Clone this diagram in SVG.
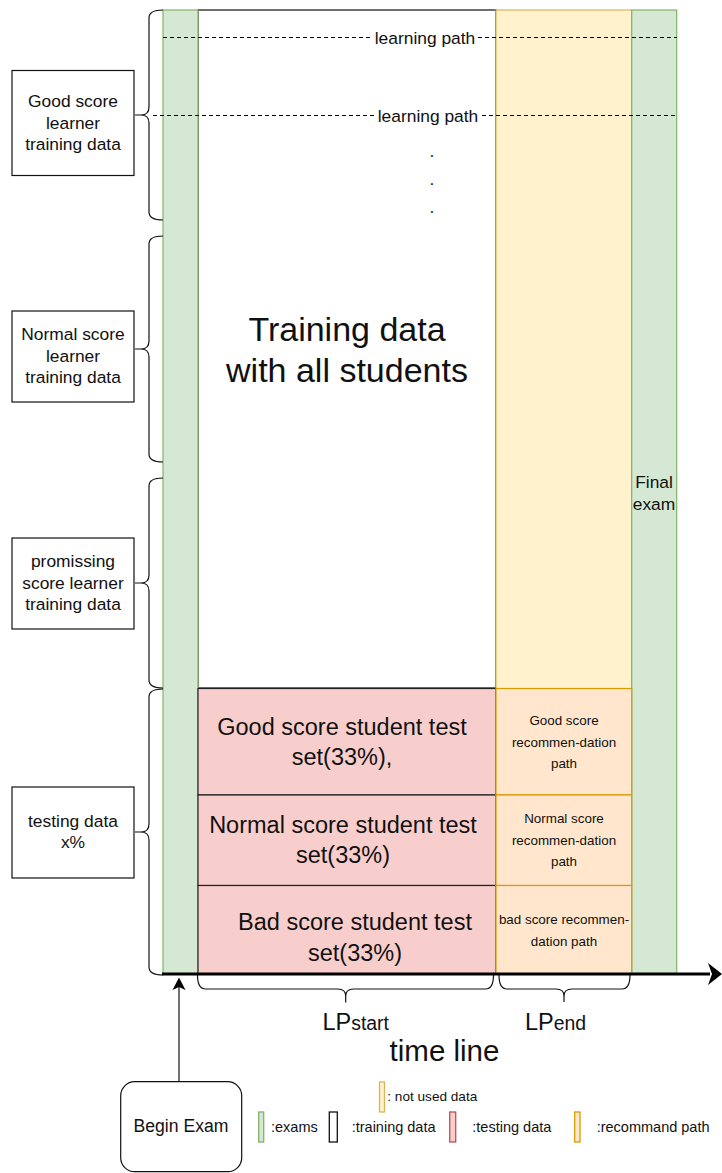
<svg xmlns="http://www.w3.org/2000/svg" width="722" height="1173" viewBox="0 0 722 1173">
<style>
text{font-family:"Liberation Sans",Arial,sans-serif;fill:#111}
.c{text-anchor:middle}
.green{fill:#d5e8d4;stroke:#82b366;stroke-width:1.2}
.yellow{fill:#fff2cc;stroke:#d6b656;stroke-width:1.2}
.orange{fill:#ffe6cc;stroke:#d79b00;stroke-width:1.2}
.red{fill:#f8cecc;stroke:#222;stroke-width:1.2}
.box{fill:#fff;stroke:#111;stroke-width:1.2}
.brace{fill:none;stroke:#111;stroke-width:1.2}
.dash{stroke:#000;stroke-width:1.2;stroke-dasharray:4 3}
.lb{font-size:17.4px}
.tst{font-size:23.5px}
.rec{font-size:13.4px}
.leg{font-size:14.5px}
.lrect{stroke-width:1.3}
</style>
<rect width="722" height="1173" fill="#fff"/>

<g id="training">
<rect x="198" y="10" width="298" height="678" fill="#fff" stroke="#111" stroke-width="1.2"/>
<text class="c" x="347" y="341" font-size="34">Training data</text>
<text class="c" x="347" y="382" font-size="34">with all students</text>
</g>

<g id="notused-column"><rect class="yellow" x="496" y="10" width="135.7" height="964"/></g>
<g id="begin-exam-column"><rect class="green" x="163" y="10" width="35" height="964"/></g>
<g id="final-exam">
<rect class="green" x="631.7" y="10" width="45" height="964"/>
<text class="c lb" x="654" y="488">Final</text>
<text class="c lb" x="654" y="510">exam</text>
</g>

<g id="test-good">
<rect class="red" x="198" y="688.5" width="298" height="106.5"/>
<text class="c tst" x="342" y="735">Good score student test</text>
<text class="c tst" x="342" y="765">set(33%),</text>
</g>
<g id="test-normal">
<rect class="red" x="198" y="795" width="298" height="90.5"/>
<text class="c tst" x="343" y="833">Normal score student test</text>
<text class="c tst" x="343" y="863">set(33%)</text>
</g>
<g id="test-bad">
<rect class="red" x="198" y="885.5" width="298" height="88.5"/>
<text class="c tst" x="355" y="930">Bad score student test</text>
<text class="c tst" x="355" y="961">set(33%)</text>
</g>

<g id="rec-good">
<rect class="orange" x="496" y="688.5" width="135.7" height="106.5"/>
<text class="c rec" x="564" y="725">Good score</text>
<text class="c rec" x="564" y="747">recommen-dation</text>
<text class="c rec" x="564" y="768">path</text>
</g>
<g id="rec-normal">
<rect class="orange" x="496" y="795" width="135.7" height="90.5"/>
<text class="c rec" x="564" y="823">Normal score</text>
<text class="c rec" x="564" y="845">recommen-dation</text>
<text class="c rec" x="564" y="866">path</text>
</g>
<g id="rec-bad">
<rect class="orange" x="496" y="885.5" width="135.7" height="88.5"/>
<text class="c rec" x="564" y="924">bad score recommen-</text>
<text class="c rec" x="564" y="946">dation path</text>
</g>

<g id="learning-paths">
<line class="dash" x1="163" y1="37.5" x2="677" y2="37.5"/>
<rect x="372" y="28" width="106" height="19" fill="#fff"/>
<text class="c lb" x="425" y="43.5">learning path</text>
<line class="dash" x1="153" y1="115.5" x2="677" y2="115.5"/>
<rect x="375" y="106" width="106" height="19" fill="#fff"/>
<text class="c lb" x="428" y="121.5">learning path</text>
<text class="c lb" x="432" y="157">.</text>
<text class="c lb" x="432" y="185">.</text>
<text class="c lb" x="432" y="213">.</text>
</g>

<g id="box-good">
<rect class="box" x="12" y="70.5" width="122" height="105"/>
<text class="c lb" x="73" y="107">Good score</text>
<text class="c lb" x="73" y="128.5">learner</text>
<text class="c lb" x="73" y="150">training data</text>
</g>
<g id="box-normal">
<rect class="box" x="12" y="311" width="122" height="91"/>
<text class="c lb" x="73" y="340">Normal score</text>
<text class="c lb" x="73" y="361.5">learner</text>
<text class="c lb" x="73" y="383">training data</text>
</g>
<g id="box-promising">
<rect class="box" x="12" y="538" width="122" height="91"/>
<text class="c lb" x="73" y="567">promissing</text>
<text class="c lb" x="73" y="588.5">score learner</text>
<text class="c lb" x="73" y="610">training data</text>
</g>
<g id="box-testing">
<rect class="box" x="12" y="787" width="122" height="91"/>
<text class="c lb" x="73" y="826.5">testing data</text>
<text class="c lb" x="73" y="848">x%</text>
</g>

<g id="begin-exam">
<rect class="box" x="120.7" y="1081.7" width="121" height="90" rx="14"/>
<text class="c" x="181" y="1131.5" font-size="17.6">Begin Exam</text>
</g>

<g id="labels">
<text x="322.5" y="1030" font-size="23.5">LP<tspan font-size="19.4">start</tspan></text>
<text x="525" y="1030" font-size="23.5">LP<tspan font-size="19.4">end</tspan></text>
<text class="c" x="444.5" y="1061" font-size="29.5">time line</text>
</g>

<g id="connectors">
<path class="brace" d="M163,10 Q149,10 149,18 V107 Q149,115 141,115 H135 H141 Q149,115 149,123 V212 Q149,220 163,220"/>
<path class="brace" d="M163,236 Q149,236 149,244 V341 Q149,349 141,349 H135 H141 Q149,349 149,357 V454 Q149,462 163,462"/>
<path class="brace" d="M163,478 Q149,478 149,486 V575 Q149,583 141,583 H135 H141 Q149,583 149,591 V680 Q149,688 163,688"/>
<path class="brace" d="M163,689 Q149,689 149,697 V824 Q149,832 141,832 H135 H141 Q149,832 149,840 V967 Q149,975 163,975"/>
<path class="brace" d="M197.5,975 Q197.5,989 205.5,989 H337.7 Q345.7,989 345.7,996 V1002.5 V996 Q345.7,989 353.7,989 H485.5 Q493.5,989 493.5,975"/>
<path class="brace" d="M499,975 Q499,989 507,989 H556 Q564,989 564,996 V1002 V996 Q564,989 572,989 H622 Q630,989 630,975"/>
<line x1="162" y1="974" x2="710" y2="974" stroke="#000" stroke-width="3"/>
<polygon points="722,974 708,963 712,974 708,985" fill="#000"/>
<line x1="179" y1="1081.7" x2="179" y2="986" stroke="#111" stroke-width="1.2"/>
<polygon points="179,977.5 172.5,990 179,987 185.5,990" fill="#000"/>
</g>

<g id="legend">
<rect class="yellow lrect" x="379.5" y="1082" width="5" height="30"/>
<text x="387.3" y="1100.7" font-size="13.6">: not used data</text>
<rect class="green lrect" x="258.7" y="1112" width="5" height="30"/>
<text class="leg" x="271" y="1131.7">:exams</text>
<rect class="box lrect" x="329.3" y="1112" width="8" height="30"/>
<text class="leg" x="351.7" y="1131.7">:training data</text>
<rect class="lrect" x="449.7" y="1112" width="6" height="30" fill="#f8cecc" stroke="#b85450"/>
<text class="leg" x="472.3" y="1131.7">:testing data</text>
<rect class="orange lrect" x="574.7" y="1112" width="5.3" height="30"/>
<text class="leg" x="596.7" y="1131.7">:recommand path</text>
</g>
</svg>
